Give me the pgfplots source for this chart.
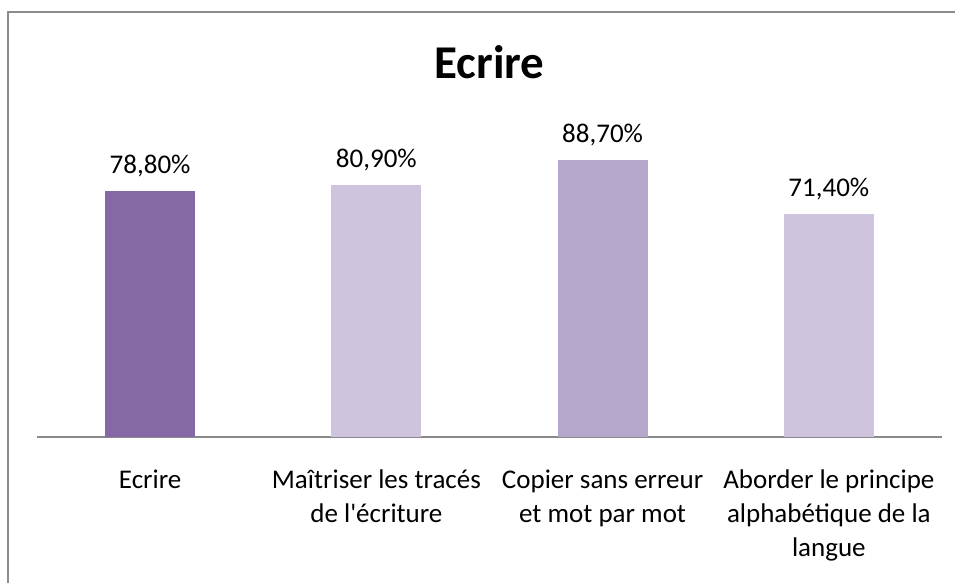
\documentclass[border=0pt]{standalone}
\usepackage{fontspec}
\setmainfont{Carlito}
\usepackage{pgfplots}
\pgfplotsset{compat=1.18}
\definecolor{barA}{HTML}{8569A5}
\definecolor{barB}{HTML}{CFC4DE}
\definecolor{barC}{HTML}{B5A6CB}
\definecolor{framegray}{HTML}{8C8C8C}
\definecolor{axgray}{HTML}{8A8A8A}
\begin{document}
\begin{tikzpicture}
\useasboundingbox (0,0) rectangle (477.5pt,291.5pt);
\draw[framegray, line width=1.3pt] (4pt,-20pt) -- (4pt,285.5pt) -- (500pt,285.5pt);
\node[anchor=base, font=\fontsize{23.5}{28}\selectfont\bfseries] at (244.75pt,252pt) {Ecrire};
\begin{axis}[
    at={(18.5pt,73pt)}, anchor=south west,
    width=452.5pt, height=156pt, scale only axis,
    xmin=-0.5, xmax=3.5, ymin=0, ymax=100,
    axis x line*=bottom, hide y axis,
    x axis line style={axgray, line width=0.8pt},
    xtick={0,1,2,3},
    xticklabels={Ecrire, {Maîtriser les tracés\\de l\textquotesingle écriture}, {Copier sans erreur\\et mot par mot}, {Aborder le principe\\alphabétique de la\\langue}},
    major tick length=0pt,
    xticklabel style={align=center, anchor=north, yshift=-13pt, font=\fontsize{13.5}{17}\selectfont},
    ybar, bar width=45pt, bar shift=0pt,
    /pgf/number format/assume math mode=true,
    /pgf/number format/.cd, use comma, fixed, fixed zerofill, precision=2, 1000 sep={},
    /pgfplots/.cd,
    nodes near coords={\pgfmathprintnumber{\pgfplotspointmeta}\%},
    every node near coord/.append style={font=\fontsize{13.5}{17}\selectfont, yshift=3.5pt, black},
]
\addplot[draw=none, fill=barA] coordinates {(0,78.8)};
\addplot[draw=none, fill=barB] coordinates {(1,80.9)};
\addplot[draw=none, fill=barC] coordinates {(2,88.7)};
\addplot[draw=none, fill=barB] coordinates {(3,71.4)};
\end{axis}
\end{tikzpicture}
\end{document}
